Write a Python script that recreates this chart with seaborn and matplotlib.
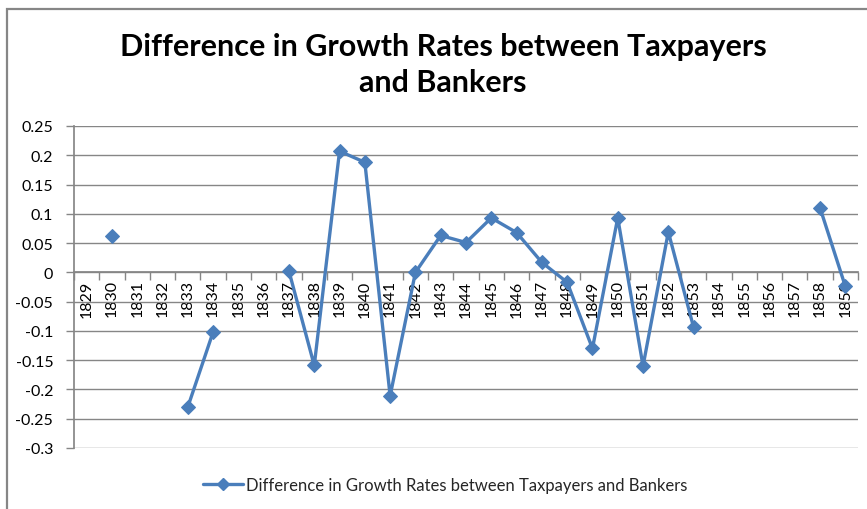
import numpy as np
import pandas as pd
import seaborn as sns
import matplotlib.pyplot as plt
from matplotlib.lines import Line2D
from matplotlib.patches import Rectangle
from matplotlib.ticker import FixedLocator, FuncFormatter

nan = np.nan

# Yearly difference in growth rates (taxpayers minus bankers)
years = list(range(1829, 1860))
diff = [nan, 0.062, nan, nan, -0.230, -0.102, nan, nan,
        0.002, -0.159, 0.207, 0.188, -0.211, 0.000, 0.063, 0.051,
        0.093, 0.068, 0.017, -0.017, -0.130, 0.093, -0.160, 0.069,
        -0.094, nan, nan, nan, nan, 0.110, -0.024]
y_ticks = [-0.3, -0.25, -0.2, -0.15, -0.1, -0.05, 0, 0.05, 0.1, 0.15, 0.2, 0.25]
series_name = "Difference in Growth Rates between Taxpayers and Bankers"
title = "Difference in Growth Rates between Taxpayers\nand Bankers"

BLUE = "#4A7EBB"
GRID = "#868686"

sns.set_theme(style="white")
plt.rcParams["font.family"] = ["Lato", "DejaVu Sans"]

df = pd.DataFrame({"year": years, "value": diff})
df["pos"] = np.arange(len(df))
# consecutive non-missing runs are drawn as separate line pieces
df["segment"] = df["value"].isna().cumsum()
df = df.dropna(subset=["value"])

fig = plt.figure(figsize=(8.67, 5.10), dpi=100)
ax = fig.add_axes([74 / 867, 1 - 449 / 510, (858 - 74) / 867, (449 - 127) / 510])

sns.lineplot(data=df, x="pos", y="value", units="segment", estimator=None,
             color=BLUE, linewidth=2.4, marker="D", markersize=7.5,
             markeredgecolor=BLUE, markerfacecolor=BLUE, legend=False,
             ax=ax, zorder=3)

ax.set_xlim(-0.5, len(years) - 0.5)
ax.set_ylim(-0.3, 0.25)
ax.set_xlabel("")
ax.set_ylabel("")

# horizontal gridlines
ax.yaxis.set_major_locator(FixedLocator(y_ticks))
ax.yaxis.set_major_formatter(FuncFormatter(lambda v, p: f"{round(v, 2):g}" if abs(v) > 1e-9 else "0"))
ax.grid(axis="y", color=GRID, linewidth=1.0)
ax.grid(axis="x", visible=False)
ax.set_axisbelow(True)

# category axis crossing at zero
ax.spines["bottom"].set_position(("data", 0))
ax.spines["bottom"].set_color(GRID)
ax.spines["bottom"].set_zorder(2)
ax.spines["left"].set_color(GRID)
ax.spines["top"].set_visible(False)
ax.spines["right"].set_visible(False)

ax.set_xticks(np.arange(len(years)))
ax.set_xticklabels([str(y) for y in years], rotation=90, fontsize=11.5, color="black")
ax.set_xticks(np.arange(len(years) + 1) - 0.5, minor=True)
ax.tick_params(axis="x", which="major", length=0, pad=5)
ax.tick_params(axis="x", which="minor", length=6, width=1, color=GRID, direction="out")
ax.tick_params(axis="y", which="major", length=6, width=1, color=GRID, direction="out",
               labelsize=11.5, pad=9, labelcolor="black")
ax.tick_params(left=True, bottom=True, which="both")

fig.text(443 / 867, 1 - 65 / 510, title, ha="center", va="center",
         fontsize=22, fontweight="bold", linespacing=1.32, color="black")

handle = Line2D([], [], color=BLUE, linewidth=2.4, marker="D", markersize=6,
                markerfacecolor=BLUE, markeredgecolor=BLUE)
fig.legend([handle], [series_name], loc="center", bbox_to_anchor=(445 / 867, 1 - 486 / 510),
           frameon=False, fontsize=12, handlelength=2.4, handletextpad=0.2)

# chart area border
fig.add_artist(Rectangle((7 / 867, -0.1), 1.2, 1 - 10 / 510 + 0.1, transform=fig.transFigure,
                         fill=False, edgecolor=GRID, linewidth=1.6))

fig.savefig("out.png", dpi=100)
